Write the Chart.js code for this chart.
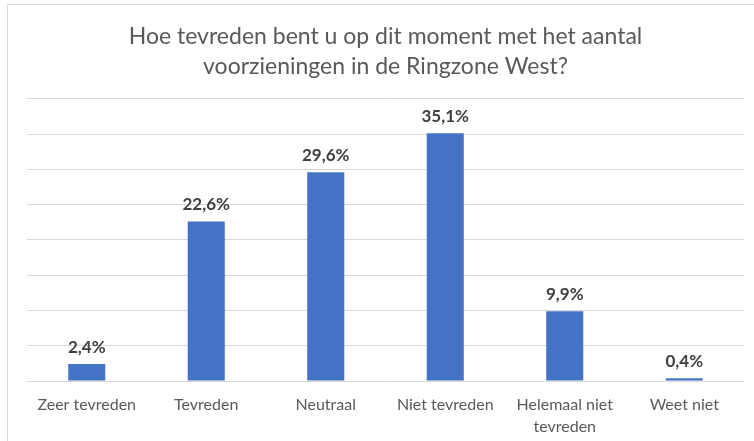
<!DOCTYPE html>
<html>
<head>
<meta charset="utf-8">
<script src="https://cdn.jsdelivr.net/npm/chart.js@4"></script>
<style>
html,body{margin:0;padding:0;background:#fff;}
#wrap{position:relative;width:754px;height:441px;}
</style>
</head>
<body>
<div id="wrap"><canvas id="c" width="754" height="441"></canvas></div>
<script>
const categories = [["Zeer tevreden"], ["Tevreden"], ["Neutraal"], ["Niet tevreden"], ["Helemaal niet", "tevreden"], ["Weet niet"]];
const values = [2.4, 22.6, 29.6, 35.1, 9.9, 0.4];
const valueLabels = ["2,4%", "22,6%", "29,6%", "35,1%", "9,9%", "0,4%"];
const titleLines = ["Hoe tevreden bent u op dit moment met het aantal", "voorzieningen in de Ringzone West?"];
const FONT = "Lato, 'Open Sans', sans-serif";

const framePlugin = {
  id: 'frame',
  beforeDraw(chart) {
    const ctx = chart.ctx;
    ctx.save();
    ctx.fillStyle = '#fff';
    ctx.fillRect(0, 0, chart.width, chart.height);
    ctx.strokeStyle = '#d9d9d9';
    ctx.lineWidth = 1;
    ctx.beginPath();
    ctx.moveTo(7.5, 441);
    ctx.lineTo(7.5, 4.5);
    ctx.lineTo(754, 4.5);
    ctx.stroke();
    ctx.restore();
  }
};

const labelPlugin = {
  id: 'valueLabels',
  afterDatasetsDraw(chart) {
    const ctx = chart.ctx;
    const meta = chart.getDatasetMeta(0);
    ctx.save();
    ctx.font = "bold 17px " + FONT;
    ctx.fillStyle = '#404040';
    ctx.textAlign = 'center';
    ctx.textBaseline = 'middle';
    meta.data.forEach((bar, i) => {
      ctx.fillText(valueLabels[i], bar.x, bar.y - 17);
    });
    ctx.restore();
  }
};

new Chart(document.getElementById('c'), {
  type: 'bar',
  data: {
    labels: categories,
    datasets: [{
      data: values,
      backgroundColor: '#4472C4',
      borderWidth: 0,
      barPercentage: 0.62,
      categoryPercentage: 0.5
    }]
  },
  options: {
    responsive: false,
    animation: false,
    layout: { padding: { left: 27, right: 10, top: 4, bottom: 6 } },
    plugins: {
      legend: { display: false },
      tooltip: { enabled: false },
      title: {
        display: true,
        text: titleLines,
        color: '#595959',
        font: { family: FONT, size: 23, weight: 'normal', lineHeight: 1.3 },
        padding: { top: 18, bottom: 17 }
      }
    },
    scales: {
      x: {
        grid: { display: false, drawTicks: false },
        border: { display: false },
        ticks: { color: '#595959', font: { family: FONT, size: 16, lineHeight: 1.35 }, padding: 13, maxRotation: 0, autoSkip: false },
        afterFit(scale) { scale.height = 54; }
      },
      y: {
        min: 0, max: 40,
        ticks: { display: false, stepSize: 5 },
        grid: { color: '#d9d9d9', drawTicks: false, lineWidth: 1 },
        border: { display: false }
      }
    }
  },
  plugins: [framePlugin, labelPlugin]
});
</script>
</body>
</html>
